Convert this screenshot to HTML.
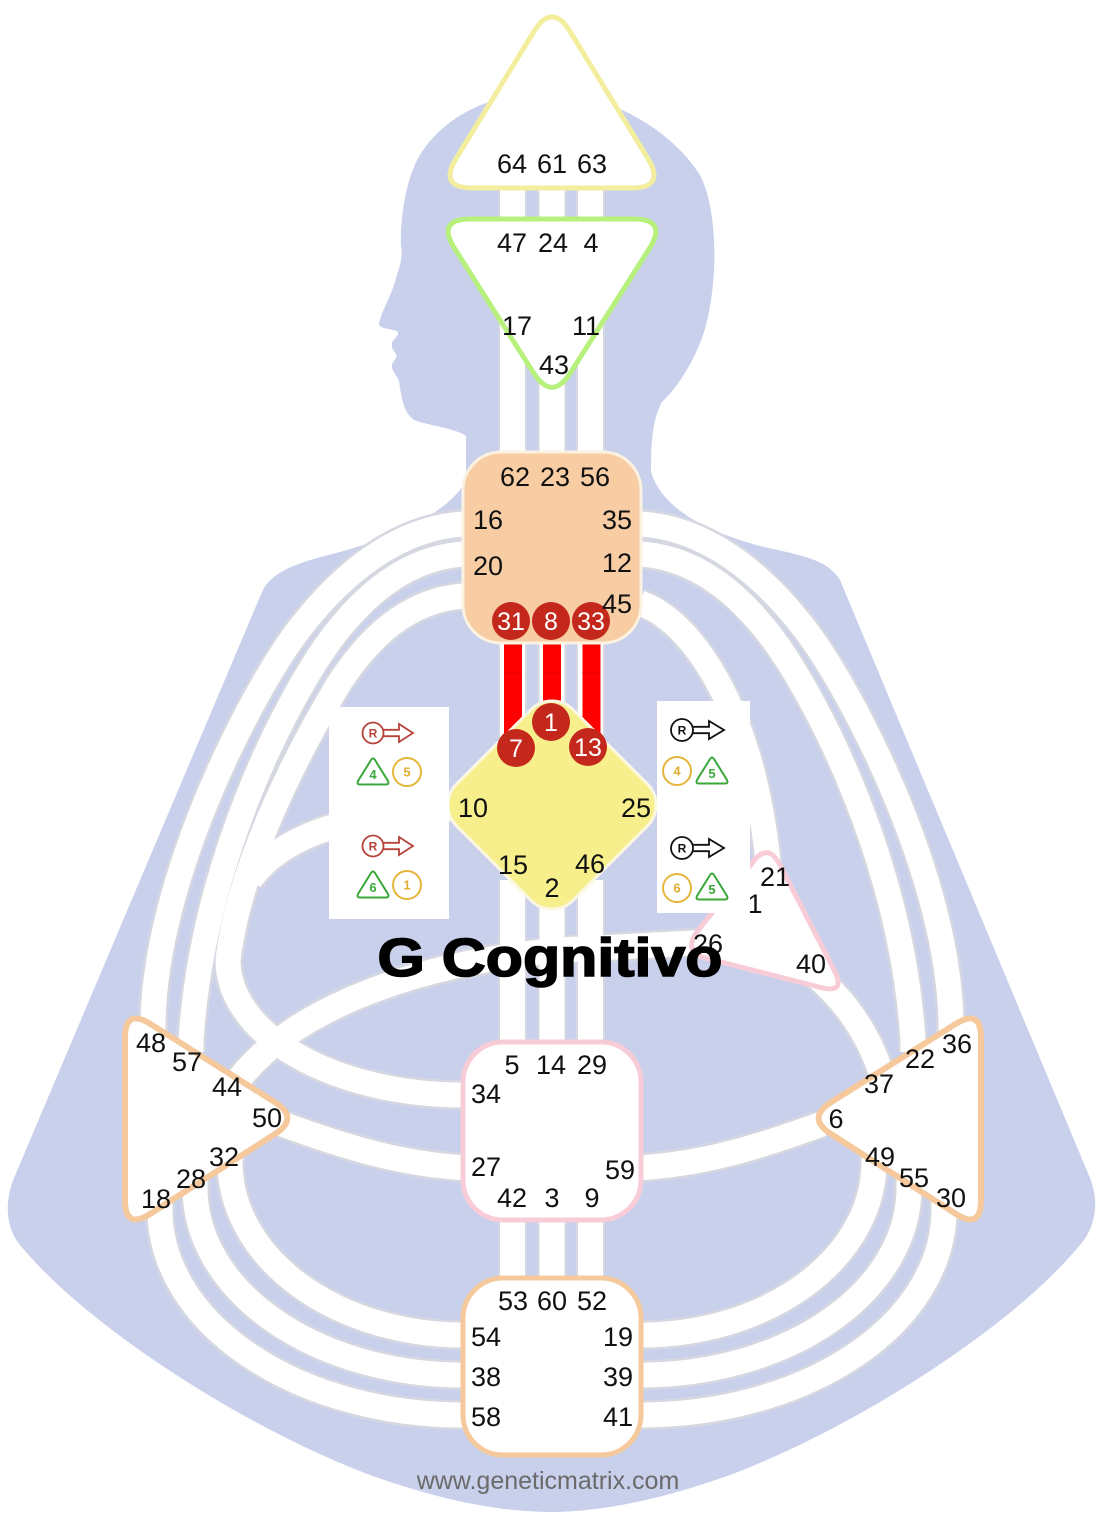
<!DOCTYPE html>
<html><head><meta charset="utf-8"><style>
html,body{margin:0;padding:0;background:#fff;}
svg{display:block;font-family:"Liberation Sans",Arial,sans-serif;}
</style></head><body>
<svg width="1100" height="1520" viewBox="0 0 1100 1520" xmlns="http://www.w3.org/2000/svg">
<defs>
<path id="cA" d="M463,524 C400,528 345,570 300,628 C254,687 152,880 153,1030 L153,1045"/>
<path id="cB" d="M463,554 C405,558 360,598 326,646 C285,705 203,860 191,1040 L191,1052"/>
<path id="cC" d="M463,596 C410,600 370,635 338,685 C302,745 240,860 228,960 A235,135 0 0 0 463,1095"/>
<path id="c10" d="M450,808 C360,815 285,830 250,880"/>
<path id="cY" d="M240,1078 C290,1015 400,965 560,950 L712,942"/>
<path id="c50" d="M282,1124 C340,1145 400,1165 470,1168"/>
<path id="c58" d="M160,1180 L160,1210 A303,205 0 0 0 463,1415"/>
<path id="c38" d="M195,1160 L195,1188 A268,187 0 0 0 463,1375"/>
<path id="c54" d="M230,1140 L230,1162 A233,173 0 0 0 463,1335"/>
<path id="rA" d="M641,524 C704,528 759,570 804,628 C850,687 952,880 951,1030 L951,1045"/>
<path id="rB" d="M641,554 C699,558 744,598 778,646 C819,705 901,860 913,1040 L913,1052"/>
<path id="r45" d="M640,603 C690,620 752,705 768,862"/>
<path id="r40" d="M815,975 C850,1005 872,1040 885,1085"/>
<path id="r6" d="M822,1124 C764,1145 704,1165 634,1168"/>
<path id="r41" d="M944,1180 L944,1210 A303,205 0 0 1 641,1415"/>
<path id="r39" d="M909,1160 L909,1188 A268,187 0 0 1 641,1375"/>
<path id="r19" d="M874,1140 L874,1162 A233,173 0 0 1 641,1335"/>
<path id="vv" d="M512.5,180 V460 M552,180 V460 M590.5,180 V460 M512.5,636 V740 M552,636 V730 M590.5,636 V740 M512.5,880 V1050 M552,880 V1050 M590.5,880 V1050 M512.5,1210 V1290 M552,1210 V1290 M590.5,1210 V1290"/>
</defs>

<!-- body silhouette -->
<path fill="#c9d0ec" d="M539,92 C600,90 668,125 700,175 C718,210 718,280 706,325 C698,355 680,385 662,402 C653,418 651,440 651,471 C660,505 700,530 760,546 C805,556 828,560 840,580 L1090,1178 C1100,1203 1095,1228 1080,1245 C1010,1330 850,1430 730,1475 C660,1500 600,1512 550,1512 C500,1512 440,1500 370,1475 C250,1430 90,1330 20,1245 C6,1228 4,1203 14,1178 L262,592 C272,570 300,562 340,552 C400,535 452,510 466,480 L466,436 C455,428 430,426 414,420 C403,412 401,395 399,381 C396,374 391,370 392,365 C393,360 398,358 396,354 C393,350 390,346 393,341 C396,337 400,334 397,331 C391,329 380,329 379,324 C380,314 392,295 396,278 C400,265 403,257 401,246 C400,225 404,190 414,167 C425,140 460,98 539,92 Z"/>

<!-- channel borders -->
<g fill="none" stroke="#d5d7e1" stroke-width="30">
<use href="#cA"/><use href="#cB"/><use href="#cC"/><use href="#c10"/><use href="#cY"/><use href="#c50"/>
<use href="#c58"/><use href="#c38"/><use href="#c54"/>
<use href="#rA"/><use href="#rB"/><use href="#r45"/><use href="#r40"/><use href="#r6"/>
<use href="#r41"/><use href="#r39"/><use href="#r19"/>
<use href="#vv" stroke-width="29"/>
</g>
<!-- channel whites -->
<g fill="none" stroke="#ffffff" stroke-width="25">
<use href="#cA"/><use href="#cB"/><use href="#cC"/><use href="#c10"/><use href="#cY"/><use href="#c50"/>
<use href="#c58"/><use href="#c38"/><use href="#c54"/>
<use href="#rA"/><use href="#rB"/><use href="#r45"/><use href="#r40"/><use href="#r6"/>
<use href="#r41"/><use href="#r39"/><use href="#r19"/>
<use href="#vv"/>
</g>
<!-- red defined channels -->
<g stroke="#fe0000" stroke-width="18" fill="none">
<path d="M513,640 V735 M552,640 V720 M591.5,640 V735"/>
</g>
<path d="M504,673 H522 M543,673 H561 M582,673 H600" stroke="#d00000" stroke-width="1" opacity="0.5"/>

<!-- HEAD -->
<path d="M533.7,31.8 L456.3,158.2 Q438,188 473,188 L631,188 Q666,188 647.7,158.2 L570.3,31.8 Q552,2 533.7,31.8 Z" fill="#fff" stroke="#f3ee9e" stroke-width="5"/>
<!-- AJNA -->
<path d="M471,219 L633,219 Q668,219 649.3,248.6 L570.7,372.4 Q552,402 533.3,372.4 L454.7,248.6 Q436,219 471,219 Z" fill="#fff" stroke="#b8f07e" stroke-width="5"/>
<!-- THROAT -->
<rect x="463" y="452" width="178" height="191" rx="38" fill="#f8cda4" stroke="#fbf2e2" stroke-width="3"/>
<!-- G -->
<rect x="-82.3" y="-82.3" width="164.6" height="164.6" rx="30" transform="translate(552,805) rotate(45)" fill="#f6ef8c" stroke="#fcf7e2" stroke-width="3"/>
<!-- SACRAL -->
<rect x="463" y="1042" width="178" height="178" rx="40" fill="#fff" stroke="#f8ccd6" stroke-width="5"/>
<!-- ROOT -->
<rect x="463" y="1278" width="178" height="177" rx="40" fill="#fff" stroke="#f5c99b" stroke-width="5"/>
<!-- SPLEEN -->
<path d="M125,1038 L125,1200 Q125,1230 150.3,1213.8 L274.7,1134.2 Q300,1118 274.6,1102 L150.4,1024 Q125,1008 125,1038 Z" fill="#fff" stroke="#f5c99b" stroke-width="6"/>
<!-- SOLAR PLEXUS -->
<path d="M981,1038 L981,1200 Q981,1230 955.7,1213.8 L831.3,1134.2 Q806,1118 831.4,1102 L955.6,1024 Q981,1008 981,1038 Z" fill="#fff" stroke="#f5c99b" stroke-width="6"/>
<!-- HEART -->
<path d="M753,862 L697.5,931.1 Q682,952 707.2,958.5 L820.8,987.5 Q846,994 834.5,970.7 L780,865 Q768,842 753,862 Z" fill="#fff" stroke="#f8ccd6" stroke-width="5"/>

<!-- red activated gates -->
<g fill="#c4281c">
<circle cx="511" cy="621" r="19"/><circle cx="551" cy="621" r="19"/><circle cx="591" cy="621" r="19"/>
<circle cx="551" cy="722" r="19"/><circle cx="516" cy="748" r="19"/><circle cx="588" cy="747" r="19"/>
</g>
<g fill="#fff" font-size="25" text-anchor="middle">
<text x="511" y="630">31</text><text x="551" y="630">8</text><text x="591" y="630">33</text>
<text x="551" y="731">1</text><text x="516" y="757">7</text><text x="588" y="756">13</text>
</g>

<!-- gate numbers -->
<g fill="#111" font-size="27" text-anchor="middle">
<text x="512" y="173">64</text><text x="552" y="173">61</text><text x="592" y="173">63</text>
<text x="512" y="252">47</text><text x="553" y="252">24</text><text x="591" y="252">4</text>
<text x="517" y="335">17</text><text x="586" y="335">11</text><text x="554" y="374">43</text>
<text x="515" y="486">62</text><text x="555" y="486">23</text><text x="595" y="486">56</text>
<text x="488" y="529">16</text><text x="617" y="529">35</text>
<text x="488" y="575">20</text><text x="617" y="572">12</text>
<text x="617" y="613">45</text>
<text x="473" y="817">10</text><text x="636" y="817">25</text>
<text x="513" y="874">15</text><text x="590" y="873">46</text><text x="552" y="897">2</text>
<text x="775" y="886">21</text><text x="755" y="913">1</text>
<text x="708" y="953">26</text><text x="811" y="973">40</text>
<text x="151" y="1052">48</text><text x="187" y="1071">57</text><text x="227" y="1096">44</text>
<text x="267" y="1127">50</text><text x="224" y="1166">32</text><text x="191" y="1188">28</text><text x="156" y="1208">18</text>
<text x="957" y="1053">36</text><text x="920" y="1068">22</text><text x="879" y="1093">37</text>
<text x="836" y="1128">6</text><text x="880" y="1166">49</text><text x="914" y="1187">55</text><text x="951" y="1207">30</text>
<text x="512" y="1074">5</text><text x="551" y="1074">14</text><text x="592" y="1074">29</text>
<text x="486" y="1103">34</text><text x="486" y="1176">27</text><text x="620" y="1179">59</text>
<text x="512" y="1207">42</text><text x="552" y="1207">3</text><text x="592" y="1207">9</text>
<text x="513" y="1310">53</text><text x="552" y="1310">60</text><text x="592" y="1310">52</text>
<text x="486" y="1346">54</text><text x="618" y="1346">19</text>
<text x="486" y="1386">38</text><text x="618" y="1386">39</text>
<text x="486" y="1426">58</text><text x="618" y="1426">41</text>
</g>

<!-- LEFT PANEL -->
<rect x="329" y="707" width="120" height="212" fill="#fff"/>
<g transform="translate(373,733)" stroke="#b5433a" stroke-width="1.8" fill="#fff">
<path d="M10.3,-3.2 H26 V-9 L40,0 L26,9 V3.2 H10.3"/>
<circle r="10.5"/>
<text y="4.5" font-size="12" font-weight="bold" text-anchor="middle" fill="#b5433a" stroke="none">R</text>
</g>
<g transform="translate(373,846)" stroke="#b5433a" stroke-width="1.8" fill="#fff">
<path d="M10.3,-3.2 H26 V-9 L40,0 L26,9 V3.2 H10.3"/>
<circle r="10.5"/>
<text y="4.5" font-size="12" font-weight="bold" text-anchor="middle" fill="#b5433a" stroke="none">R</text>
</g>
<g transform="translate(373,772)">
<path d="M-2,-12 Q0,-15 2,-12 L15,9 Q16.5,12.5 13,12.5 L-13,12.5 Q-16.5,12.5 -15,9 Z" fill="none" stroke="#3aa83a" stroke-width="2"/>
<text y="7" font-size="13" font-weight="bold" text-anchor="middle" fill="#3aa83a">4</text>
</g>
<g transform="translate(407,772)">
<circle r="14" fill="none" stroke="#e5b53c" stroke-width="2"/>
<text y="4.5" font-size="13" font-weight="bold" text-anchor="middle" fill="#e0ad30">5</text>
</g>
<g transform="translate(373,885)">
<path d="M-2,-12 Q0,-15 2,-12 L15,9 Q16.5,12.5 13,12.5 L-13,12.5 Q-16.5,12.5 -15,9 Z" fill="none" stroke="#3aa83a" stroke-width="2"/>
<text y="7" font-size="13" font-weight="bold" text-anchor="middle" fill="#3aa83a">6</text>
</g>
<g transform="translate(407,885)">
<circle r="14" fill="none" stroke="#e5b53c" stroke-width="2"/>
<text y="4.5" font-size="13" font-weight="bold" text-anchor="middle" fill="#e0ad30">1</text>
</g>

<!-- RIGHT PANEL -->
<rect x="657" y="701" width="93" height="212" fill="#fff"/>
<g transform="translate(682,730)" stroke="#111" stroke-width="1.8" fill="#fff">
<path d="M10.8,-3.2 H27 V-9 L42,0 L27,9 V3.2 H10.8"/>
<circle r="11"/>
<text y="4.5" font-size="12" font-weight="bold" text-anchor="middle" fill="#111" stroke="none">R</text>
</g>
<g transform="translate(682,848)" stroke="#111" stroke-width="1.8" fill="#fff">
<path d="M10.8,-3.2 H27 V-9 L42,0 L27,9 V3.2 H10.8"/>
<circle r="11"/>
<text y="4.5" font-size="12" font-weight="bold" text-anchor="middle" fill="#111" stroke="none">R</text>
</g>
<g transform="translate(677,771)">
<circle r="14" fill="none" stroke="#e5b53c" stroke-width="2"/>
<text y="4.5" font-size="13" font-weight="bold" text-anchor="middle" fill="#e0ad30">4</text>
</g>
<g transform="translate(712,771)">
<path d="M-2,-12 Q0,-15 2,-12 L15,9 Q16.5,12.5 13,12.5 L-13,12.5 Q-16.5,12.5 -15,9 Z" fill="none" stroke="#3aa83a" stroke-width="2"/>
<text y="7" font-size="13" font-weight="bold" text-anchor="middle" fill="#3aa83a">5</text>
</g>
<g transform="translate(677,888)">
<circle r="14" fill="none" stroke="#e5b53c" stroke-width="2"/>
<text y="4.5" font-size="13" font-weight="bold" text-anchor="middle" fill="#e0ad30">6</text>
</g>
<g transform="translate(712,887)">
<path d="M-2,-12 Q0,-15 2,-12 L15,9 Q16.5,12.5 13,12.5 L-13,12.5 Q-16.5,12.5 -15,9 Z" fill="none" stroke="#3aa83a" stroke-width="2"/>
<text y="7" font-size="13" font-weight="bold" text-anchor="middle" fill="#3aa83a">5</text>
</g>

<!-- title -->
<text x="550" y="976" font-size="54" font-weight="bold" text-anchor="middle" fill="#000" stroke="#000" stroke-width="1.6" textLength="345" lengthAdjust="spacingAndGlyphs">G Cognitivo</text>

<!-- footer -->
<text x="548" y="1489" font-size="25" text-anchor="middle" fill="#6a6a6a">www.geneticmatrix.com</text>
</svg>
</body></html>
